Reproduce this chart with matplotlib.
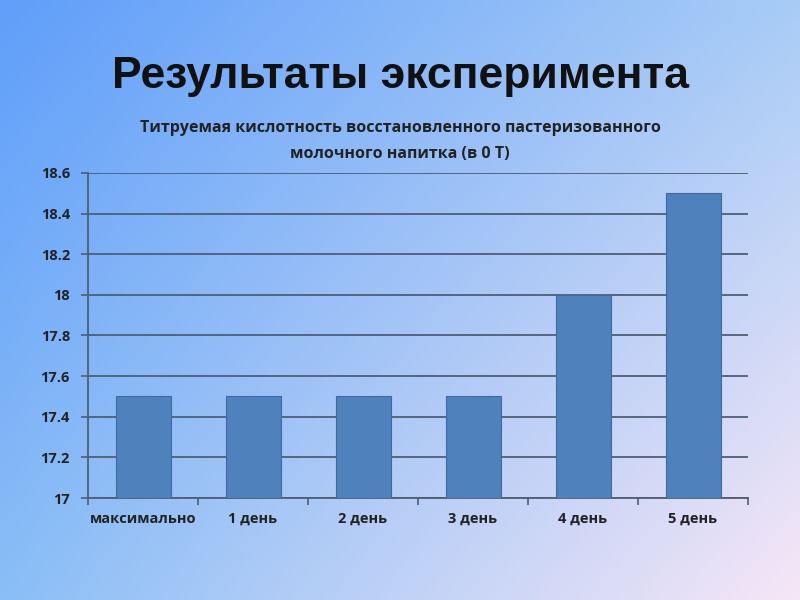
import matplotlib
matplotlib.use("Agg")
import matplotlib.pyplot as plt
import numpy as np

categories = ["максимально", "1 день", "2 день", "3 день", "4 день", "5 день"]
values = [17.5, 17.5, 17.5, 17.5, 18.0, 18.5]
yticks = [17, 17.2, 17.4, 17.6, 17.8, 18, 18.2, 18.4, 18.6]
ytick_labels = ["17", "17.2", "17.4", "17.6", "17.8", "18", "18.2", "18.4", "18.6"]

fig = plt.figure(figsize=(8, 6), dpi=100)

# background gradient (blue top-left -> pale pink bottom-right)
bg = fig.add_axes([0, 0, 1, 1], zorder=0)
h, w = 120, 160
yy, xx = np.mgrid[0:1:h * 1j, 0:1:w * 1j]
tl = np.array([96, 158, 250]) / 255
tr = np.array([168, 204, 246]) / 255
bl = np.array([138, 190, 246]) / 255
br = np.array([246, 230, 246]) / 255
img = ((1 - xx)[..., None] * (1 - yy)[..., None] * tl + xx[..., None] * (1 - yy)[..., None] * tr
       + (1 - xx)[..., None] * yy[..., None] * bl + xx[..., None] * yy[..., None] * br)
bg.imshow(img, aspect="auto", extent=[0, 1, 0, 1], interpolation="bicubic")
bg.axis("off")

fig.text(0.5, 0.873, "Результаты эксперимента", ha="center", va="center",
         fontsize=32, fontweight="bold", family="Liberation Sans", color="#111111")
fig.text(0.5, 0.765, "Титруемая кислотность восстановленного пастеризованного\nмолочного напитка (в 0 Т)",
         ha="center", va="center", fontsize=11.5, fontweight="bold", family="Open Sans",
         color="#222222", linespacing=1.9)

ax = fig.add_axes([0.11, 0.17, 0.825, 0.5417], zorder=1)
ax.patch.set_alpha(0)
x = np.arange(len(categories))
ax.bar(x, np.array(values) - 17, bottom=17, width=0.5, color="#4f81bd",
       edgecolor="#3f6a9e", linewidth=0.8, zorder=3)
ax.set_xlim(-0.5, len(categories) - 0.5)
ax.set_ylim(17, 18.6)
ax.set_yticks(yticks)
ax.set_yticklabels(ytick_labels)
ax.grid(axis="y", color="#4e5f73", linewidth=1.3, zorder=1)
ax.set_xticks(x)
ax.set_xticklabels(categories)
ax.set_xticks(np.arange(-0.5, len(categories)), minor=True)
ax.tick_params(axis="x", which="major", length=0, pad=10)
ax.tick_params(axis="x", which="minor", length=5, color="#4e5f73", width=1.2, direction="out")
ax.tick_params(axis="y", length=5, color="#4e5f73", width=1.2, pad=8)
for lab in ax.get_xticklabels() + ax.get_yticklabels():
    lab.set_fontweight("bold")
    lab.set_fontsize(10.5)
    lab.set_family("Open Sans")
    lab.set_color("#222222")
for s in ["top", "right"]:
    ax.spines[s].set_visible(False)
ax.spines["left"].set_color("#4e5f73")
ax.spines["bottom"].set_color("#4e5f73")
ax.spines["left"].set_linewidth(1.3)
ax.spines["bottom"].set_linewidth(1.3)

fig.savefig("out.png", dpi=100)
